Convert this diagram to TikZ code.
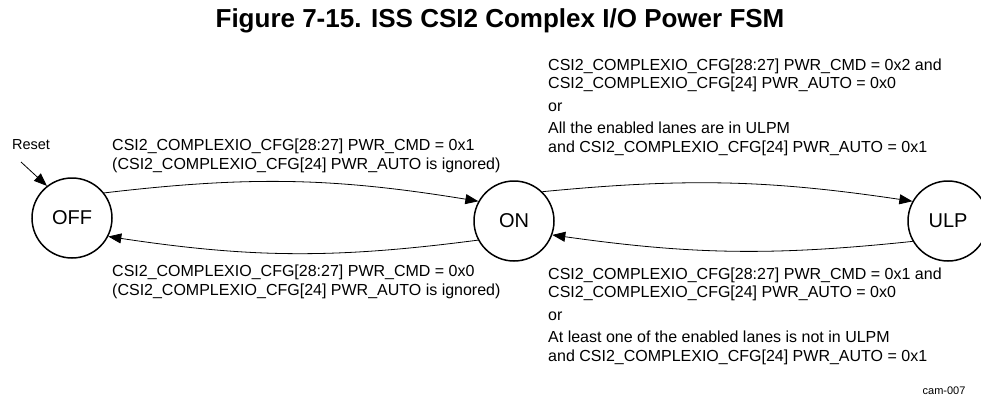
\documentclass[tikz,border=0pt]{standalone}
\usepackage{fontspec}
\setmainfont{Liberation Sans}
\usetikzlibrary{arrows.meta}
\begin{document}
\begin{tikzpicture}[x=1pt,y=-1pt,
  state/.style={draw,line width=1.5pt,circle,minimum size=80pt,inner sep=0pt,font=\fontsize{20}{22}\selectfont},
  lbl/.style={align=left,anchor=base west,inner sep=0pt,font=\fontsize{16}{18.5}\selectfont},
  trans/.style={line width=0.8pt,-{Triangle[length=13pt,width=10pt]}}]
\useasboundingbox (0,0) rectangle (981,400);
\node[font=\bfseries\fontsize{26}{30}\selectfont] (title) at (500,21) {Figure 7-15. ISS CSI2 Complex I/O Power FSM};
\node[state] (off) at (72,218) {OFF};
\node[state] (on) at (514,221) {ON};
\node[state] (ulp) at (948,221) {ULP};
\node[font=\fontsize{14.5}{16}\selectfont] (reset) at (31,145) {Reset};
\coordinate (rs) at (21,162);
\draw[trans] (rs) -- (off.128);
\draw[trans] (off.38) to[bend left=8] (on.151);
\draw[trans] (on.208) to[bend left=8] (off.-27);
\draw[trans] (on.46) to[bend left=7] (ulp.151);
\draw[trans] (ulp.210) to[bend left=7] (on.-20);
\node[lbl] (l1) at (112,169) {CSI2\_COMPLEXIO\_CFG[28:27] PWR\_CMD = 0x1\\(CSI2\_COMPLEXIO\_CFG[24] PWR\_AUTO is ignored)};
\node[lbl] (l2) at (112,295) {CSI2\_COMPLEXIO\_CFG[28:27] PWR\_CMD = 0x0\\(CSI2\_COMPLEXIO\_CFG[24] PWR\_AUTO is ignored)};
\node[lbl] (l3) at (548,152) {CSI2\_COMPLEXIO\_CFG[28:27] PWR\_CMD = 0x2 and\\CSI2\_COMPLEXIO\_CFG[24] PWR\_AUTO = 0x0\\[4pt]or\\[4pt]All the enabled lanes are in ULPM\\and CSI2\_COMPLEXIO\_CFG[24] PWR\_AUTO = 0x1};
\node[lbl] (l4) at (548,361) {CSI2\_COMPLEXIO\_CFG[28:27] PWR\_CMD = 0x1 and\\CSI2\_COMPLEXIO\_CFG[24] PWR\_AUTO = 0x0\\[4pt]or\\[4pt]At least one of the enabled lanes is not in ULPM\\and CSI2\_COMPLEXIO\_CFG[24] PWR\_AUTO = 0x1};
\node[font=\fontsize{11}{13}\selectfont,anchor=east] (cam) at (969,391) {cam-007};
\end{tikzpicture}
\end{document}
